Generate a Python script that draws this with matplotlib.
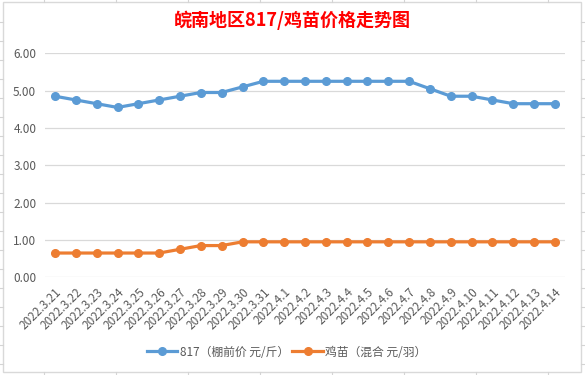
import matplotlib
matplotlib.use("Agg")
import matplotlib.pyplot as plt
from matplotlib.lines import Line2D
from matplotlib.patches import Rectangle

plt.rcParams['font.family'] = ['Noto Sans CJK SC', 'DejaVu Sans']

# data
dates = ["2022.3.21", "2022.3.22", "2022.3.23", "2022.3.24", "2022.3.25",
         "2022.3.26", "2022.3.27", "2022.3.28", "2022.3.29", "2022.3.30",
         "2022.3.31", "2022.4.1", "2022.4.2", "2022.4.3", "2022.4.4",
         "2022.4.5", "2022.4.6", "2022.4.7", "2022.4.8", "2022.4.9",
         "2022.4.10", "2022.4.11", "2022.4.12", "2022.4.13", "2022.4.14"]
price_817 = [4.85, 4.75, 4.65, 4.55, 4.65, 4.75, 4.85, 4.95, 4.95, 5.10,
             5.25, 5.25, 5.25, 5.25, 5.25, 5.25, 5.25, 5.25, 5.05, 4.85,
             4.85, 4.75, 4.65, 4.65, 4.65]
price_chick = [0.65, 0.65, 0.65, 0.65, 0.65, 0.65, 0.75, 0.85, 0.85, 0.95,
               0.95, 0.95, 0.95, 0.95, 0.95, 0.95, 0.95, 0.95, 0.95, 0.95,
               0.95, 0.95, 0.95, 0.95, 0.95]
yticks = [0, 1, 2, 3, 4, 5, 6]
label_817 = "817（棚前价 元/斤）"
label_chick = "鸡苗（混合 元/羽）"
title = "皖南地区817/鸡苗价格走势图"

W, H = 585, 375
fig = plt.figure(figsize=(W / 100, H / 100), dpi=100)
fig.patch.set_facecolor("white")

# faint spreadsheet cells around the chart
cell_col = "#D4D4D4"
for y in range(22, 375, 19):
    fig.add_artist(Line2D([0, 3 / W], [1 - y / H] * 2, color=cell_col, lw=0.8))
    fig.add_artist(Line2D([581 / W, 1], [1 - y / H] * 2, color=cell_col, lw=0.8))
for x in range(44, 585, 72):
    fig.add_artist(Line2D([x / W] * 2, [1, 1 - 2 / H], color=cell_col, lw=0.8))
    fig.add_artist(Line2D([x / W] * 2, [0, 3 / H], color=cell_col, lw=0.8))
fig.add_artist(Rectangle((3 / W, 3 / H), 578 / W, 370 / H, transform=fig.transFigure,
                         fill=False, edgecolor="#D9D9D9", lw=1.0))

ax = fig.add_axes([44.6 / W, 1 - 277.3 / H, 520.8 / W, 224 / H])
x = range(len(dates))
ax.plot(x, price_817, color="#5B9BD5", lw=2.3, marker="o", ms=5.5, label=label_817, zorder=3)
ax.plot(x, price_chick, color="#ED7D31", lw=2.3, marker="o", ms=5.5, label=label_chick, zorder=3)

ax.set_xlim(-0.5, len(dates) - 0.5)
ax.set_ylim(0, 6)
ax.set_yticks(yticks)
ax.set_yticklabels([f"{v:.2f}" for v in yticks], fontsize=8.5, color="#595959")
ax.set_xticks(list(x))
ax.set_xticklabels(dates, fontsize=8.5, color="#595959", rotation=45,
                   ha="right", va="top", rotation_mode="anchor")
ax.tick_params(length=0, pad=6)
ax.grid(axis="y", color="#D9D9D9", lw=0.9)
ax.set_axisbelow(True)
for s in ax.spines.values():
    s.set_visible(False)

fig.text(0.5, 1 - 20 / H, title, ha="center", va="center", fontsize=13,
         fontweight="bold", color="#FF0000")

fig.legend(loc="center", bbox_to_anchor=(0.49, 1 - 352 / H), ncol=2, frameon=False,
           fontsize=8.5, labelcolor="#595959", handlelength=2.6, columnspacing=0.3,
           handletextpad=0.2)

fig.savefig("out.png", dpi=100)
